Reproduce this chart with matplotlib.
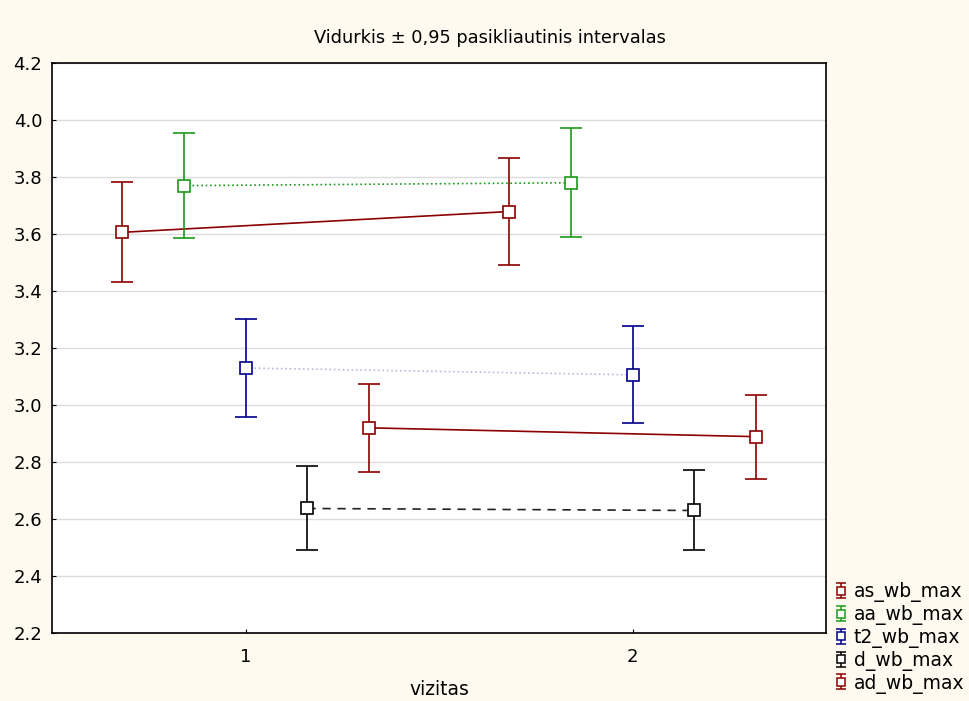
import matplotlib
matplotlib.use("Agg")
import matplotlib.pyplot as plt
from matplotlib.container import ErrorbarContainer
from matplotlib.legend_handler import HandlerErrorbar

plt.rcParams["font.family"] = ["DejaVu Sans"]

VISITS = [1, 2]
SERIES = ["as_wb_max", "aa_wb_max", "t2_wb_max", "d_wb_max", "ad_wb_max"]
# mean and 95% CI bounds per visit
MEAN = {"as_wb_max": [3.606, 3.679], "aa_wb_max": [3.770, 3.780],
        "t2_wb_max": [3.130, 3.106], "d_wb_max": [2.637, 2.630],
        "ad_wb_max": [2.920, 2.889]}
UPPER = {"as_wb_max": [3.784, 3.868], "aa_wb_max": [3.955, 3.973],
         "t2_wb_max": [3.301, 3.277], "d_wb_max": [2.787, 2.773],
         "ad_wb_max": [3.074, 3.036]}
LOWER = {"as_wb_max": [3.431, 3.490], "aa_wb_max": [3.585, 3.588],
         "t2_wb_max": [2.959, 2.938], "d_wb_max": [2.490, 2.490],
         "ad_wb_max": [2.766, 2.742]}

OFFSET = {"as_wb_max": -0.32, "aa_wb_max": -0.16, "t2_wb_max": 0.0,
          "d_wb_max": 0.16, "ad_wb_max": 0.32}
COL = {"as_wb_max": "#8b0000", "aa_wb_max": "#1a9a1a", "t2_wb_max": "#00008b",
       "d_wb_max": "#000000", "ad_wb_max": "#8b0000"}
LINECOL = {"as_wb_max": "#8b0000", "aa_wb_max": "#1a9a1a", "t2_wb_max": "#b8b8e0",
           "d_wb_max": "#222222", "ad_wb_max": "#8b0000"}
LS = {"as_wb_max": "-", "aa_wb_max": ":", "t2_wb_max": ":",
      "d_wb_max": (0, (5, 4)), "ad_wb_max": "-"}

BG = "#fffaf0"
fig = plt.figure(figsize=(9.7, 7.01), dpi=100, facecolor=BG)
ax = fig.add_axes([0.0536, 0.097, 0.798, 0.813])
ax.set_facecolor("white")

handles = []
for s in SERIES:
    xs = [v + OFFSET[s] for v in VISITS]
    m = MEAN[s]
    lo = [a - b for a, b in zip(m, LOWER[s])]
    hi = [b - a for a, b in zip(m, UPPER[s])]
    ax.plot(xs, m, color=LINECOL[s], ls=LS[s], lw=1.2, zorder=2)
    ax.errorbar(xs, m, yerr=[lo, hi], fmt="s", ls="none", ms=8, mfc="white",
                mec=COL[s], mew=1.2, ecolor=COL[s], elinewidth=1.2,
                capsize=8, capthick=1.2, zorder=3)
    # smaller copy used only for the legend icon; sits left of the x range
    h = ax.errorbar([-10.0], [m[0]], yerr=[[lo[0]], [hi[0]]], fmt="s",
                    ls="none", ms=5.5, mfc="white", mec=COL[s], mew=1.1,
                    ecolor=COL[s], elinewidth=1.1, capsize=3.6, capthick=1.1, label=s)
    handles.append(h)

ax.set_xlim(0.5, 2.5)
ax.set_ylim(2.2, 4.2)
ax.set_xticks(VISITS)
ax.set_yticks([2.2 + 0.2 * i for i in range(11)])
ax.set_yticklabels([f"{2.2 + 0.2 * i:.1f}" for i in range(11)])
ax.yaxis.grid(True, color="#dcdcdc", lw=1.0, zorder=0)
ax.set_axisbelow(True)
ax.tick_params(direction="in", length=3, labelsize=13, colors="black")
ax.tick_params(axis="y", pad=7)
ax.tick_params(axis="x", pad=11)
for sp in ax.spines.values():
    sp.set_color("black")
    sp.set_linewidth(1.2)

fig.suptitle("Vidurkis \u00b1 0,95 pasikliautinis intervalas", fontsize=12.8,
             x=0.505, y=0.946, va="center")
ax.set_xlabel("vizitas", fontsize=13.5, labelpad=10)

leg = fig.legend(handles=handles, loc="lower left", bbox_to_anchor=(0.853, 0.0),
                 frameon=False, fontsize=13.5, handlelength=0.7, handletextpad=0.3,
                 labelspacing=0.15, borderaxespad=0,
                 handler_map={ErrorbarContainer: HandlerErrorbar(yerr_size=0.4)})

fig.savefig("out.png", dpi=100, facecolor=BG)
